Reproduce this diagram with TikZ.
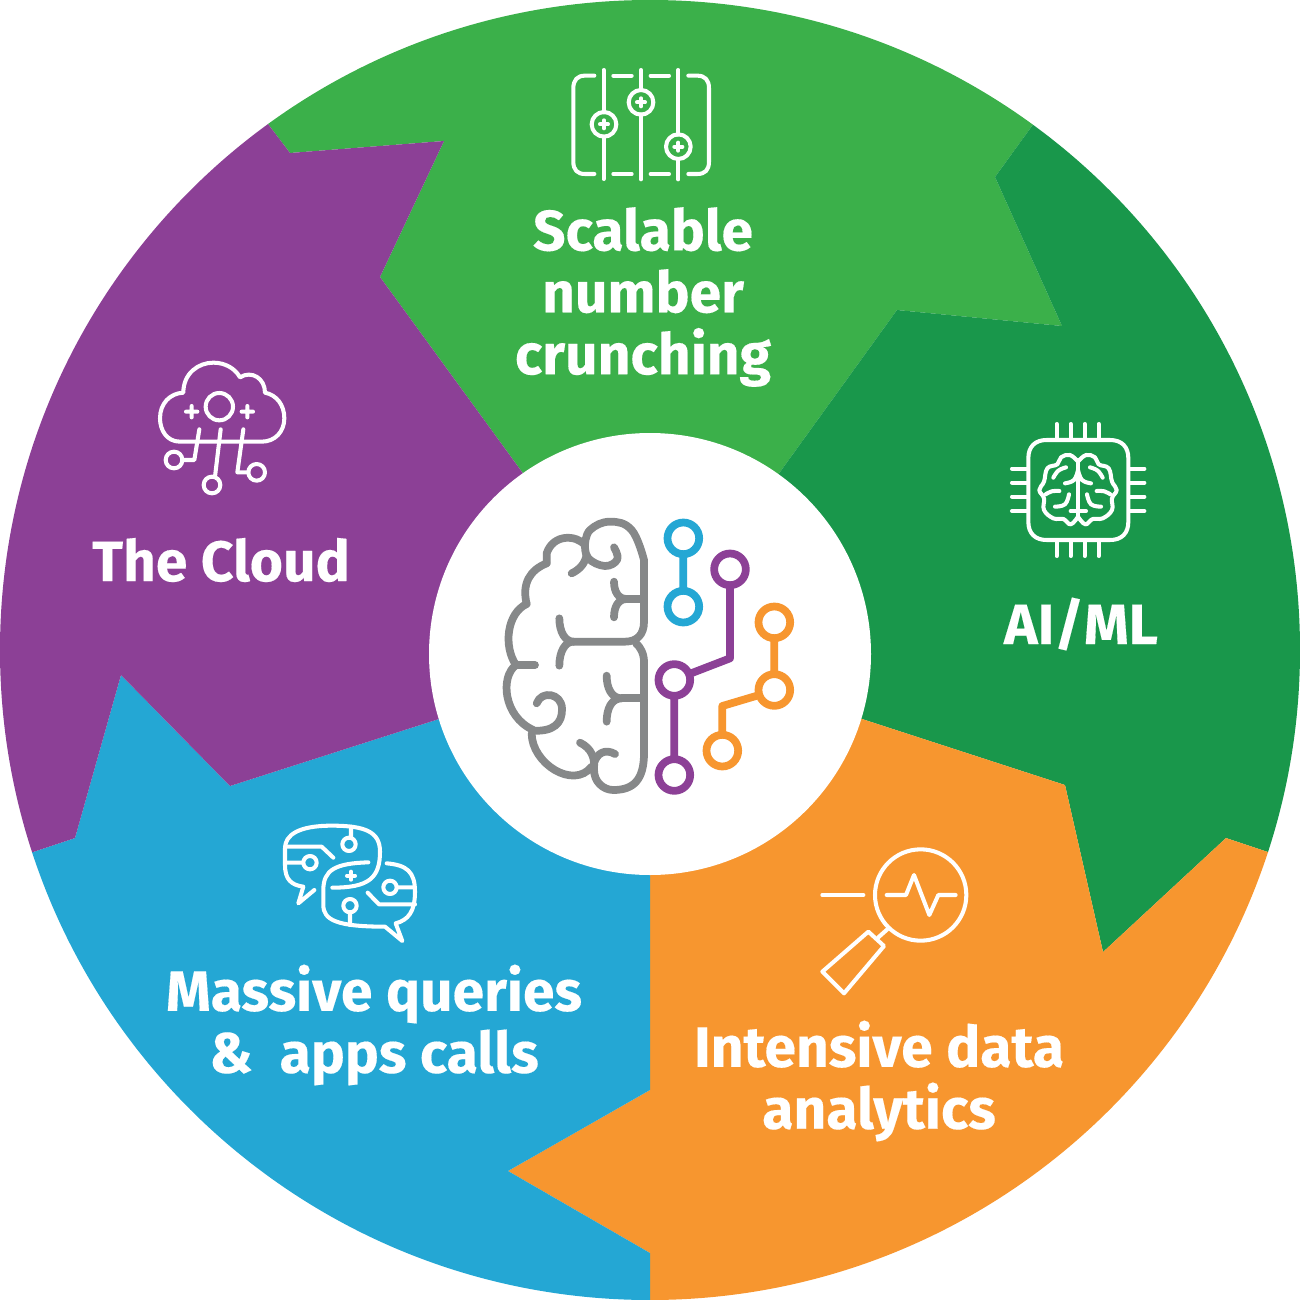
\documentclass[tikz,border=0pt]{standalone}
\usepackage{fontspec}
\setmainfont{Fira Sans}[BoldFont={Fira Sans Bold},BoldFeatures={FakeBold=0.25}]
\definecolor{cgreen}{HTML}{3BB04A}
\definecolor{cdark}{HTML}{19974B}
\definecolor{corange}{HTML}{F7962F}
\definecolor{cblue}{HTML}{24A7D4}
\definecolor{cpurple}{HTML}{8C4096}
\definecolor{cgrey}{HTML}{868889}
\tikzset{
  lab/.style={text=white,font=\bfseries\fontsize{16.2pt}{17.6pt}\selectfont,align=center,inner sep=0pt},
  brainline/.style={cgrey,line width=2.2pt,line cap=round,line join=round},
  colline/.style={line width=2.2pt,line cap=round,line join=round},
  whiteicon/.style={white,line width=1.15pt,line cap=round,line join=round},
  sm/.style={smooth,tension=0.7}
}
\begin{document}
\begin{tikzpicture}[x=0.01cm,y=-0.01cm]
\useasboundingbox (0,0) rectangle (1300,1300);
\begin{scope}
\clip (650,650) circle [radius=650];
\fill[cgreen] (290,153)--(268,124)--(100,-100)--(1200,-100)--(1032,126)--(995,177)--(1062,326)--(897,310)--(780,472)--(650,654)--(522,472)--(380,277)--(444,141)--cycle;
\fill[cdark] (1032,126)--(1200,-100)--(1500,-100)--(1500,927)--(1268,852)--(1226,838)--(1103,952)--(1065,785)--(862,719)--(650,654)--(780,472)--(897,310)--(1062,326)--(995,177)--cycle;
\fill[corange] (1268,852)--(1500,927)--(1500,1500)--(650,1500)--(650,1253)--(508,1171)--(650,1090)--(650,654)--(862,719)--(1065,785)--(1103,952)--(1226,838)--cycle;
\fill[cblue] (650,1253)--(650,1500)--(-200,1500)--(-200,925)--(33,852)--(75,838)--(121,675)--(230,786)--(439,719)--(650,654)--(650,1090)--(508,1171)--cycle;
\fill[cpurple] (33,852)--(-200,925)--(-200,-100)--(100,-100)--(268,124)--(290,153)--(444,141)--(380,277)--(522,472)--(650,654)--(439,719)--(230,786)--(121,675)--(75,838)--cycle;
\end{scope}
\fill[white] (650,654) circle [radius=221];

% labels
\node[lab] (scalable) at (643,297) {Scalable\\number\\crunching};
\node[lab] (aiml) at (1081,624) {AI/ML};
\node[lab] (cloud) at (221,560) {The Cloud};
\node[lab] (massive) at (374,1025) {Massive queries\\\&~~apps calls};
\node[lab] (intensive) at (879,1081) {Intensive data\\analytics};

% central brain
\begin{scope}[shift={(490,500)},scale=1/3]
\draw[brainline] plot[sm] coordinates {(285,135)(300,90)(360,65)(425,90)(462,180)} -- (462,365) .. controls (462,405) and (440,425) .. (405,425) -- (250,425);
\draw[brainline] plot[sm] coordinates {(285,135)(295,175)(345,198)(382,178)(372,142)};
\draw[brainline] (285,135) .. controls (260,105) and (190,100) .. (170,160) -- (170,190);
\draw[brainline] (245,220) .. controls (270,208) and (285,190) .. (290,165);
\draw[brainline] (170,190) .. controls (120,210) and (95,250) .. (110,312);
\draw[brainline] (110,312) .. controls (50,340) and (40,440) .. (78,495);
\draw[brainline] (78,495) -- (135,495);
\draw[brainline] (78,495) .. controls (30,530) and (40,650) .. (130,690);
\draw[brainline] (130,692) .. controls (190,695) and (218,670) .. (216,625) .. controls (214,580) and (155,570) .. (140,610);
\draw[brainline] (125,700) .. controls (125,790) and (250,870) .. (305,800);
\draw[brainline] (270,728) .. controls (305,745) and (315,775) .. (312,805) .. controls (310,845) and (340,870) .. (370,870) .. controls (430,870) and (462,840) .. (462,760) -- (462,485) .. controls (462,460) and (450,440) .. (438,430);
\draw[brainline] (375,762) .. controls (345,745) and (320,760) .. (312,790);
\draw[brainline] (208,355) .. controls (208,395) and (225,425) .. (250,425) .. controls (225,425) and (208,455) .. (208,497);
\draw[brainline] (462,297) -- (410,297);
\draw[brainline] (372,245) .. controls (372,275) and (385,297) .. (410,297) .. controls (385,297) and (372,320) .. (372,352);
\draw[brainline] (462,595) -- (395,595);
\draw[brainline] (350,527) .. controls (350,565) and (365,595) .. (395,595) .. controls (365,595) and (350,625) .. (350,665);
\draw[colline,cblue] (580,115) circle [radius=47.5] (580,320) circle [radius=47.5] (580,165)--(580,270);
\draw[colline,cpurple,line cap=butt] (553,540) circle [radius=47.5] (553,825) circle [radius=47.5] (720,208) circle [radius=47.5] (720,258)--(720,475)--(598,522) (553,590)--(553,775);
\draw[colline,corange,line cap=butt] (853,367) circle [radius=47.5] (853,570) circle [radius=47.5] (697,752) circle [radius=47.5] (853,418)--(853,520) (808,585)--(697,618)--(697,702);
\end{scope}

% sliders icon
\begin{scope}[shift={(560,60)},scale=1/3]
\draw[whiteicon] (103,47)--(75,47) .. controls (52,47) and (40,60) .. (40,85) -- (40,305) .. controls (40,330) and (52,342) .. (75,342) -- (103,342);
\draw[whiteicon] (385,47)--(412,47) .. controls (435,47) and (447,60) .. (447,85) -- (447,305) .. controls (447,330) and (435,342) .. (412,342) -- (385,342);
\draw[whiteicon] (160,47)--(215,47) (272,47)--(327,47) (160,342)--(215,342) (272,342)--(327,342);
\draw[whiteicon] (131,30)--(131,157) (131,230)--(131,357) (243,30)--(243,90) (243,163)--(243,358) (355,30)--(355,224) (355,297)--(355,358);
\draw[whiteicon] (132,193) circle [radius=37] (243,127) circle [radius=37] (355,260) circle [radius=37];
\draw[whiteicon] (120,193)--(144,193) (132,181)--(132,205) (231,127)--(255,127) (243,115)--(243,139) (343,260)--(367,260) (355,248)--(355,272);
\end{scope}

% chip icon
\begin{scope}[shift={(1000,415)},scale=1/3]
\draw[whiteicon] (85,130) .. controls (85,95) and (105,75) .. (140,75) -- (330,75) .. controls (365,75) and (385,95) .. (385,130) -- (385,320) .. controls (385,355) and (365,375) .. (330,375) -- (140,375) .. controls (105,375) and (85,355) .. (85,320) -- cycle;
\foreach \p in {170,212,254,296} {\draw[whiteicon] (\p,27)--(\p,72) (\p,378)--(\p,423);}
\foreach \p in {161,203,245,288} {\draw[whiteicon] (36,\p)--(82,\p) (388,\p)--(433,\p);}
\draw[whiteicon] (234,135)--(234,305) (212,288)--(258,288);
\foreach \m/\o in {1/0,-1/468} {
\begin{scope}[shift={(\o,0)},xscale=\m]
\draw[whiteicon] plot[sm] coordinates {(234,140)(210,120)(183,127)(172,148)(142,160)(132,200)(118,225)(132,250)(132,285)(160,310)(190,312)(212,328)(234,305)};
\draw[whiteicon] plot[sm] coordinates {(160,188)(175,167)(198,157)};
\draw[whiteicon] plot[sm] coordinates {(195,205)(222,195)(234,165)};
\draw[whiteicon] plot[sm] coordinates {(137,238)(155,229)(178,228)};
\draw[whiteicon] plot[sm] coordinates {(165,275)(195,268)(207,238)};
\end{scope}}
\end{scope}

% cloud icon
\begin{scope}[shift={(150,350)},scale=1/3]
\draw[whiteicon] (90,275) .. controls (50,275) and (30,240) .. (30,205) .. controls (30,160) and (60,130) .. (100,128) .. controls (100,70) and (145,38) .. (190,38) .. controls (225,38) and (255,55) .. (270,82) .. controls (305,60) and (345,85) .. (345,128) .. controls (380,135) and (403,165) .. (403,205) .. controls (403,245) and (375,275) .. (335,275) -- cycle;
\draw[whiteicon] (208,170) circle [radius=41] (108,185)--(142,185) (125,168)--(125,202) (275,185)--(309,185) (292,168)--(292,202);
\draw[whiteicon] (148,238)--(133,330)--(98,330) (212,238)--(195,380) (280,238)--(262,367)--(295,367);
\draw[whiteicon] (72,330) circle [radius=25] (186,405) circle [radius=25] (320,367) circle [radius=25];
\end{scope}

% chat icon
\begin{scope}[shift={(275,815)},scale=1/3]
\draw[whiteicon] (118,225)--(70,265)--(85,215) .. controls (50,210) and (30,195) .. (30,150) -- (30,100) .. controls (30,60) and (70,32) .. (170,32) .. controls (270,32) and (315,50) .. (315,110) .. controls (315,190) and (280,218) .. (172,218);
\draw[whiteicon] (280,142) .. controls (180,145) and (145,165) .. (145,225) -- (145,270) .. controls (145,315) and (185,335) .. (330,335) -- (382,378) -- (362,325) .. controls (400,315) and (420,290) .. (420,230) .. controls (420,170) and (395,150) .. (335,145);
\draw[whiteicon] (228,35)--(228,67) (222,88) circle [radius=20];
\draw[whiteicon] (30,95)--(140,95)--(175,128) (30,143)--(85,143) (105,143) circle [radius=20];
\draw[whiteicon] (216,182)--(240,182) (228,170)--(228,194);
\draw[whiteicon] (278,233)--(312,268)--(420,268) (365,217)--(420,217) (345,217) circle [radius=20];
\draw[whiteicon] (225,272) circle [radius=20] (225,292)--(225,330);
\end{scope}

% magnifier icon
\begin{scope}[shift={(810,840)},scale=1/3]
\draw[whiteicon] (332,165) circle [radius=137];
\draw[whiteicon] (37,165)--(160,165);
\draw[whiteicon] (230,165)--(288,165)--(312,105)--(358,225)--(385,165)--(437,165);
\draw[whiteicon] (232,268)--(205,292);
\draw[whiteicon] (175,275)--(222,318)--(102,460)--(37,395)--cycle;
\end{scope}
\end{tikzpicture}
\end{document}
